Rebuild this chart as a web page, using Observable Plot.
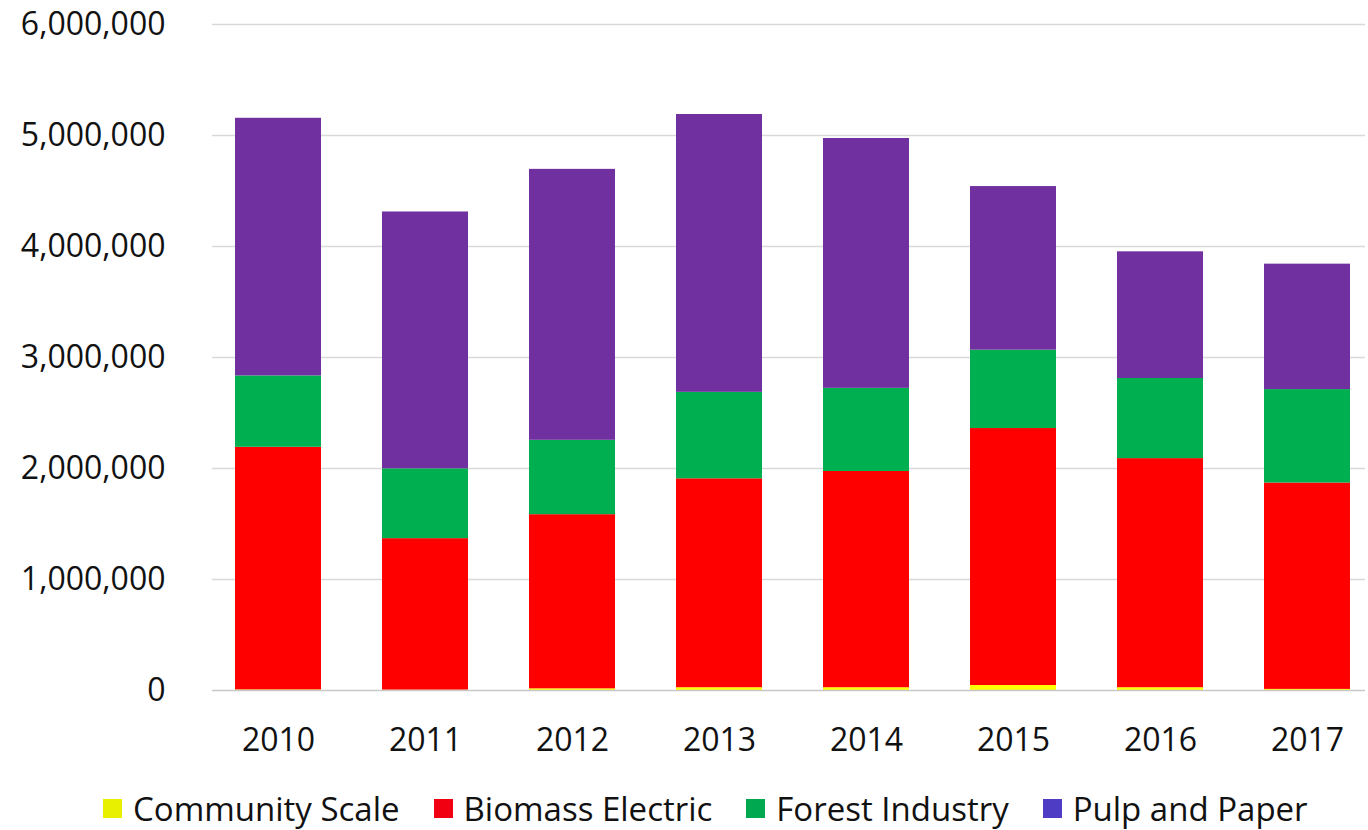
<!DOCTYPE html>
<html>
<head>
<meta charset="utf-8">
<script src="https://cdn.jsdelivr.net/npm/d3@7"></script>
<script src="https://cdn.jsdelivr.net/npm/@observablehq/plot@0.6"></script>
<style>
  html, body { margin: 0; padding: 0; background: #fff; }
  #chart { position: relative; width: 1368px; height: 775px; }
  #legend {
    display: flex; align-items: center; height: 50px; margin-top: 8px;
    padding-left: 103px; font-family: "Open Sans", sans-serif; font-size: 33px; color: #111;
  }
  .item { display: flex; align-items: center; margin-right: 34px; }
  .sw { width: 19px; height: 19px; margin-right: 11px; }
</style>
</head>
<body>
<div id="chart"></div>
<div id="legend"></div>
<script>
const years = ["2010", "2011", "2012", "2013", "2014", "2015", "2016", "2017"];
const series = ["Community Scale", "Biomass Electric", "Forest Industry", "Pulp and Paper"];
const communityScale = [5000, 3000, 15000, 25000, 25000, 45000, 25000, 10000];
const biomassElectric = [2186000, 1365000, 1569000, 1882000, 1948000, 2315000, 2064000, 1859000];
const forestIndustry = [643000, 629000, 670000, 779000, 749000, 706000, 722000, 842000];
const pulpAndPaper = [2321000, 2314000, 2441000, 2503000, 2251000, 1474000, 1141000, 1130000];
const barColors = ["#FFFF00", "#FF0000", "#00B050", "#7030A0"];
const legendColors = ["#E8F000", "#F00010", "#00A94F", "#4F3CC4"];
const yTicks = [0, 1000000, 2000000, 3000000, 4000000, 5000000, 6000000];

const valuesBySeries = [communityScale, biomassElectric, forestIndustry, pulpAndPaper];
const rows = [];
series.forEach((s, si) => years.forEach((y, yi) => rows.push({year: y, series: s, value: valuesBySeries[si][yi]})));

const chart = Plot.plot({
  width: 1368,
  height: 775,
  marginLeft: 212,
  marginRight: 3,
  marginTop: 24,
  marginBottom: 85,
  style: {fontFamily: "'Open Sans', sans-serif", fontSize: "32px", color: "#111", background: "#fff"},
  x: {domain: years, paddingInner: 0.417, paddingOuter: 0.1245, align: 0.6, label: null},
  y: {domain: [0, 6000000], label: null},
  color: {domain: series, range: barColors},
  marks: [
    Plot.ruleY(yTicks.slice(1), {stroke: "#d9d9d9", strokeWidth: 1.3}),
    Plot.barY(rows, Plot.stackY({x: "year", y: "value", fill: "series", order: series})),
    Plot.ruleY([0], {stroke: "#c8c8c8", strokeWidth: 1.3}),
    Plot.axisY({ticks: yTicks, tickSize: 0, tickPadding: 47, tickFormat: d3.format(","), label: null}),
    Plot.axisX({tickSize: 0, tickPadding: 38, label: null})
  ]
});
document.getElementById("chart").appendChild(chart);

const legend = document.getElementById("legend");
series.forEach((s, i) => {
  const item = document.createElement("div");
  item.className = "item";
  const sw = document.createElement("div");
  sw.className = "sw";
  sw.style.background = legendColors[i];
  const t = document.createElement("span");
  t.textContent = s;
  item.appendChild(sw);
  item.appendChild(t);
  legend.appendChild(item);
});
</script>
</body>
</html>
